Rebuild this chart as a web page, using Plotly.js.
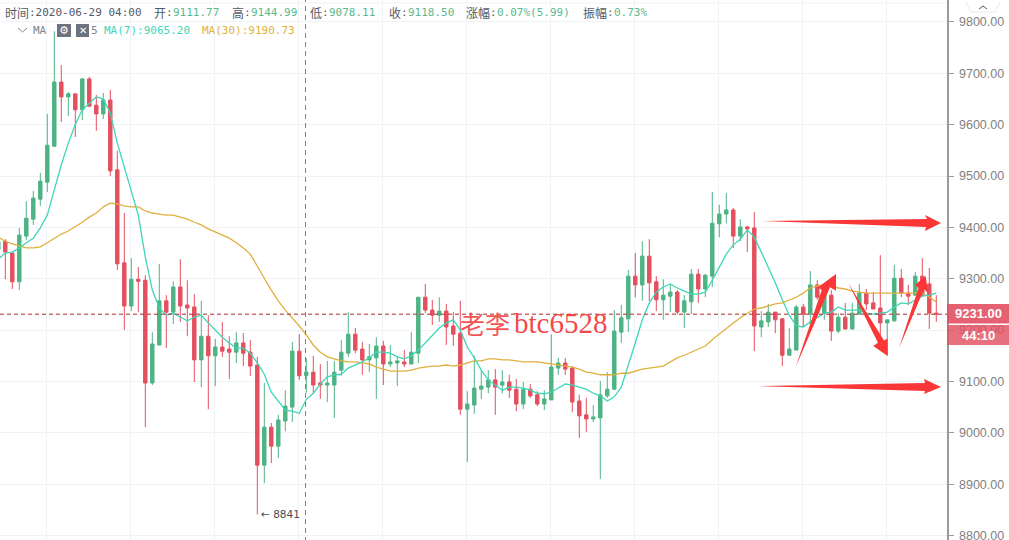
<!DOCTYPE html>
<html>
<head>
<meta charset="utf-8">
<script src="https://cdn.plot.ly/plotly-3.0.1.min.js"></script>
<style>html,body{margin:0;padding:0;background:#fff;overflow:hidden;width:1009px;height:540px}#chart{width:1009px;height:560px}</style>
</head>
<body>
<div id="chart"></div>
<script>
const open_ = [9356,9373,9350,9294,9383,9416,9455,9488,9558,9683,9654,9660,9629,9689,9638,9621,9648,9512,9331,9247,9299,9297,9097,9171,9257,9235,9284,9249,9245,9142,9188,9150,9167,9163,9157,9175,9157,9132,8937,9011,8974,9023,9050,9159,9111.77,9118,9097,9093,9093,9122,9155,9192,9163,9142,9146,9169,9134,9136,9138,9134,9155,9264,9239,9229,9237,9208,9194,9046,9054,9085,9089,9103,9093,9099,9085,9056,9085,9074,9056,9064,9126,9136,9126,9062,9035,9027,9029,9072,9085,9196,9222,9305,9288,9344,9294,9259,9266,9274,9235,9255,9309,9280,9305,9407,9426,9434,9383,9401,9399,9206,9216,9235,9222,9151,9161,9245,9231,9288,9233,9268,9198,9225,9202,9231,9272,9253,9243,9214,9218,9301,9272,9268,9305,9290,9233];
const high = [9379,9377,9352,9399,9451,9471,9506,9621,9782,9716,9664,9660,9691,9693,9658,9662,9668,9549,9428,9340,9323,9307,9196,9329,9268,9295,9338,9297,9270,9257,9229,9183,9216,9188,9196,9194,9181,9148,9097,9019,9035,9083,9177,9192,9144.99,9150,9134,9140,9140,9181,9235,9204,9177,9173,9186,9179,9171,9148,9161,9196,9264,9290,9259,9264,9251,9235,9257,9081,9150,9122,9122,9124,9122,9113,9105,9099,9095,9081,9083,9192,9146,9146,9130,9074,9068,9054,9101,9118,9239,9249,9317,9350,9373,9377,9305,9299,9288,9278,9268,9319,9319,9309,9469,9444,9467,9438,9416,9403,9430,9237,9251,9235,9222,9204,9249,9251,9315,9297,9288,9278,9233,9253,9253,9290,9280,9274,9346,9220,9327,9319,9288,9313,9340,9321,9268];
const low = [9346,9299,9280,9278,9375,9405,9442,9469,9558,9605,9617,9576,9609,9636,9588,9611,9500,9317,9200,9237,9235,9011,9093,9171,9165,9212,9216,9188,9099,9089,9046,9091,9148,9105,9136,9130,9111,8841,8902,8941,8951,9003,9021,9103,9078.11,9077,9066,9060,9029,9111,9148,9155,9113,9118,9066,9093,9128,9091,9128,9134,9136,9233,9210,9216,9171,9169,9035,8943,9037,9066,9077,9035,9077,9068,9042,9046,9068,9052,9044,9064,9113,9113,9040,8990,9002,9021,8910,9068,9083,9175,9196,9264,9257,9257,9237,9220,9235,9231,9204,9231,9253,9264,9284,9381,9408,9360,9373,9352,9159,9186,9206,9194,9130,9151,9161,9206,9210,9259,9220,9179,9194,9202,9202,9231,9239,9241,9181,9151,9216,9264,9249,9268,9268,9202,9216];
const close_ = [9373,9352,9294,9385,9418,9457,9490,9560,9683,9654,9660,9629,9689,9636,9621,9648,9510,9329,9247,9299,9295,9097,9173,9257,9235,9284,9247,9243,9142,9188,9150,9167,9159,9157,9175,9155,9130,8937,9011,8974,9025,9052,9159,9111,9118.5,9093,9093,9097,9118,9157,9192,9161,9142,9148,9169,9134,9138,9140,9134,9157,9264,9239,9229,9237,9206,9192,9046,9056,9087,9091,9103,9089,9099,9083,9056,9085,9072,9056,9066,9128,9136,9124,9060,9033,9027,9031,9074,9085,9198,9224,9305,9288,9344,9292,9259,9268,9274,9235,9257,9309,9280,9307,9408,9426,9434,9383,9401,9397,9208,9218,9235,9220,9151,9163,9245,9231,9288,9264,9274,9198,9225,9202,9233,9272,9251,9241,9214,9220,9301,9272,9266,9305,9268,9233,9231];
const ma7 = [9338,9350,9352,9360,9370,9379,9399,9424,9473,9522,9564,9601,9629,9642,9654,9650,9623,9564,9518,9467,9424,9342,9278,9243,9229,9233,9225,9218,9225,9229,9214,9200,9186,9175,9165,9165,9155,9136,9114,9079,9062,9044,9042,9038,9065.2,9077,9095,9109,9113,9114,9126,9132,9138,9146,9157,9157,9155,9148,9144,9150,9161,9175,9190,9204,9214,9220,9200,9167,9146,9122,9103,9093,9083,9089,9089,9087,9083,9077,9076,9079,9087,9095,9093,9089,9085,9077,9072,9062,9070,9089,9130,9175,9220,9253,9274,9284,9290,9282,9276,9270,9270,9274,9297,9323,9348,9366,9377,9395,9381,9352,9323,9292,9259,9229,9208,9206,9216,9225,9233,9235,9245,9239,9239,9239,9233,9231,9233,9235,9245,9253,9251,9259,9266,9268,9272];
const ma30 = [9381,9373,9368,9364,9360,9360,9362,9370,9379,9387,9393,9401,9410,9420,9428,9440,9447,9446,9442,9440,9440,9432,9428,9426,9424,9424,9420,9416,9410,9405,9397,9391,9385,9379,9370,9360,9348,9323,9301,9278,9257,9239,9224,9208,9190.73,9171,9157,9148,9144,9140,9138,9138,9136,9134,9128,9124,9120,9120,9120,9122,9126,9128,9130,9130,9132,9130,9132,9136,9140,9140,9144,9144,9142,9142,9140,9138,9138,9138,9136,9134,9132,9130,9128,9124,9118,9116,9113,9113,9113,9116,9116,9120,9124,9126,9128,9130,9138,9146,9151,9157,9163,9169,9181,9192,9204,9214,9224,9233,9241,9243,9247,9251,9253,9259,9264,9272,9282,9286,9288,9286,9282,9280,9276,9274,9272,9272,9272,9272,9272,9272,9272,9272,9272,9264,9255];
const idx = open_.map((_, i) => i);
const lastPrice = 9231;

const W = 947, H = 560;
const px = x => x / W;
const py = y => 1 - y / H;
const poly = pts => 'M' + pts.map(p => px(p[0]) + ',' + py(p[1])).join('L') + 'Z';

const arrows = [
  [[761,221],[927,219],[925,215],[941,223],[925,231],[926,227]],
  [[757,386],[925,383],[924,379],[941,387],[924,394],[925,391]],
  [[795.7,367],[821.7,290],[818,287.3],[836,274],[836,290.7],[830,287.3]],
  [[848.3,283.3],[878,342.7],[873.3,346],[887.7,356],[887.5,338.5],[884,340.5]],
  [[899,348.3],[918.5,288],[915,285],[925.7,276],[928,293],[924,289]]
];

const MONO = '"DejaVu Sans Mono","Noto Sans CJK SC",monospace';
const CJK = '"Noto Sans CJK SC",sans-serif';
const txt = (x, y, text, color, size, family, extra) => Object.assign({
  xref: 'paper', yref: 'paper', x: px(x), y: py(y), text, showarrow: false,
  xanchor: 'left', yanchor: 'middle', align: 'left',
  font: {color, size, family}, borderpad: 0
}, extra || {});

const GREY = '#555b66', GREEN = '#5bb98c', TEAL = '#3fd6b8', GOLD = '#e0b03f';
const annotations = [
  txt(4, 12, '时间', GREY, 12, CJK),
  txt(28, 12, ':2020-06-29 04:00', GREY, 11, MONO),
  txt(153, 12, '开', GREY, 12, CJK),
  txt(165, 12, ':', GREY, 11, MONO),
  txt(172, 12, '9111.77', GREEN, 11, MONO),
  txt(231, 12, '高', GREY, 12, CJK),
  txt(243, 12, ':', GREY, 11, MONO),
  txt(250, 12, '9144.99', GREEN, 11, MONO),
  txt(309, 12, '低', GREY, 12, CJK),
  txt(321, 12, ':', GREY, 11, MONO),
  txt(328, 12, '9078.11', GREEN, 11, MONO),
  txt(388, 12, '收', GREY, 12, CJK),
  txt(400, 12, ':', GREY, 11, MONO),
  txt(407, 12, '9118.50', GREEN, 11, MONO),
  txt(465, 12, '涨幅', GREY, 12, CJK),
  txt(489, 12, ':', GREY, 11, MONO),
  txt(496, 12, '0.07%(5.99)', GREEN, 11, MONO),
  txt(582, 12, '振幅', GREY, 12, CJK),
  txt(606, 12, ':', GREY, 11, MONO),
  txt(613, 12, '0.73%', GREEN, 11, MONO),
  txt(32, 30, 'MA', '#7d8590', 11, MONO),
  txt(90, 30, '5', '#7d8590', 11, MONO),
  txt(103, 30, 'MA(7):9065.20', TEAL, 11, MONO),
  txt(201, 30, 'MA(30):9190.73', GOLD, 11, MONO),
  txt(64, 30.5, '⚙', '#ffffff', 11, '"DejaVu Sans"', {xanchor: 'center'}),
  txt(82.5, 30.5, '✕', '#ffffff', 10, '"DejaVu Sans"', {xanchor: 'center'}),
  txt(260, 514, '← 8841', '#444b55', 10.5, '"DejaVu Sans",sans-serif'),
  txt(459, 323, '老李', 'rgba(244,60,60,0.88)', 25, CJK),
  txt(513, 323, 'btc6528', 'rgba(244,60,60,0.95)', 29, '"Liberation Serif",serif'),
  txt(978, 313.5, '<b>9231.00</b>', '#ffffff', 13, '"Liberation Sans",sans-serif', {xanchor: 'center'}),
  txt(978, 335, '<b>44:10</b>', '#ffffff', 13, '"Liberation Sans",sans-serif', {xanchor: 'center'})
];

const pShape = (x0, y0, x1, y1, o) => Object.assign({
  type: 'rect', xref: 'paper', yref: 'paper', x0: px(x0), x1: px(x1), y0: py(y0), y1: py(y1)
}, o);

const shapes = [
  {type: 'line', xref: 'paper', yref: 'paper', x0: 0, x1: 1, y0: py(3), y1: py(3), line: {color: '#eef1f4', width: 1}, layer: 'below'},
  {type: 'line', xref: 'paper', yref: 'y', x0: 0, x1: 1, y0: lastPrice, y1: lastPrice, line: {color: '#a8282c', width: 1, dash: '4px,3px'}},
  {type: 'line', xref: 'paper', yref: 'paper', x0: px(305.5), x1: px(305.5), y0: 0, y1: 1, line: {color: '#7a818c', width: 1, dash: '5px,4px'}},
  pShape(57, 24, 71, 37, {fillcolor: '#6b7280', line: {width: 0}, layer: 'below'}),
  pShape(76, 24, 89, 37, {fillcolor: '#6b7280', line: {width: 0}, layer: 'below'}),
  {type: 'path', xref: 'paper', yref: 'paper', path: 'M' + px(18) + ',' + py(28) + 'L' + px(22.5) + ',' + py(32) + 'L' + px(27) + ',' + py(28), line: {color: '#7d8590', width: 1}},
  {type: 'path', xref: 'paper', yref: 'paper', path: 'M' + px(966) + ',' + py(2) + 'L' + px(971) + ',' + py(12) + 'L' + px(995) + ',' + py(12) + 'L' + px(1000) + ',' + py(2), line: {color: '#e6e9ed', width: 1}},
  {type: 'path', xref: 'paper', yref: 'paper', path: 'M' + px(979) + ',' + py(9) + 'L' + px(983) + ',' + py(6) + 'L' + px(987) + ',' + py(9), line: {color: '#555b66', width: 1}},
  pShape(947, 304, 1009, 323.5, {fillcolor: 'rgba(226,80,98,0.9)', line: {width: 0}}),
  pShape(947, 325, 1009, 345, {fillcolor: 'rgba(226,80,98,0.82)', line: {width: 0}})
].concat(arrows.map(a => ({
  type: 'path', xref: 'paper', yref: 'paper', path: poly(a), fillcolor: '#fb3636', line: {width: 0}
})));

const traces = [
  {type: 'candlestick', x: idx, open: open_, high: high, low: low, close: close_,
   increasing: {line: {color: '#4fb384', width: 1}, fillcolor: '#4fb384'},
   decreasing: {line: {color: '#e4505f', width: 1}, fillcolor: '#e4505f'},
   hoverinfo: 'skip', showlegend: false},
  {type: 'scatter', mode: 'lines', x: idx, y: ma30, line: {color: GOLD, width: 1.3}, hoverinfo: 'skip', showlegend: false},
  {type: 'scatter', mode: 'lines', x: idx, y: ma7, line: {color: TEAL, width: 1.3}, hoverinfo: 'skip', showlegend: false}
];

const layout = {
  width: 1009, height: H,
  margin: {l: 0, r: 62, t: 0, b: 0, pad: 0},
  paper_bgcolor: '#ffffff', plot_bgcolor: '#ffffff',
  showlegend: false, boxgap: 0.3, dragmode: false,
  xaxis: {
    type: 'linear', range: [0.243, 135.53], rangeslider: {visible: false},
    tick0: 18.88, dtick: 12, showticklabels: false, ticks: '',
    showgrid: true, gridcolor: '#eff3f6', gridwidth: 1, zeroline: false, showline: false
  },
  yaxis: {
    side: 'right', range: [8752.3, 9842.8], tick0: 8800, dtick: 100, tickformat: '.2f',
    showgrid: true, gridcolor: '#eff3f6', gridwidth: 1, zeroline: false,
    showline: true, linecolor: '#9a9a9a', linewidth: 1.5,
    ticks: 'outside', ticklen: 5, tickwidth: 1, tickcolor: '#9a9a9a',
    ticklabelstandoff: 3,
    tickfont: {family: '"Liberation Sans",sans-serif', size: 12.5, color: '#7f7f7f'}
  },
  annotations, shapes
};

Plotly.newPlot('chart', traces, layout, {displayModeBar: false, staticPlot: true});
</script>
</body>
</html>
